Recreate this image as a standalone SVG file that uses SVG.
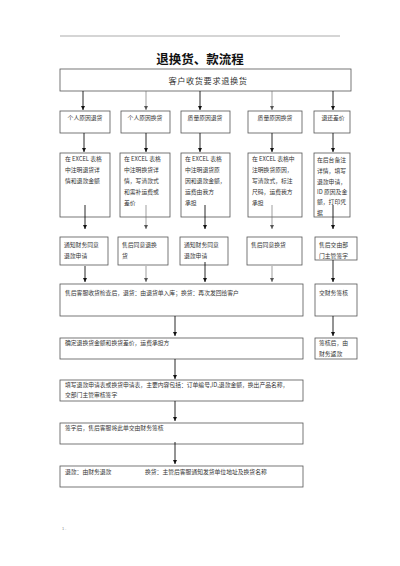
<svg xmlns="http://www.w3.org/2000/svg" width="400" height="566" viewBox="0 0 400 566">
<style>
  .bx{fill:#fff;stroke:#555;stroke-width:0.8}
  .t{font-family:"Noto Sans CJK SC","Liberation Sans",sans-serif;font-size:5.8px;fill:#333}
  .c{text-anchor:middle}
  .ad{stroke:#111;stroke-width:0.9;fill:none;marker-end:url(#ahd)}
  .ag{stroke:#777;stroke-width:0.7;fill:none;marker-end:url(#ahg)}
</style>
<defs>
  <marker id="ahd" viewBox="0 0 6 6" refX="6" refY="3" markerWidth="4" markerHeight="4" orient="auto" markerUnits="userSpaceOnUse"><path d="M0,0 L6,3 L0,6 z" fill="#111"/></marker>
  <marker id="ahg" viewBox="0 0 6 6" refX="6" refY="3" markerWidth="4" markerHeight="4" orient="auto" markerUnits="userSpaceOnUse"><path d="M0,0 L6,3 L0,6 z" fill="#555"/></marker>
</defs>
<rect width="400" height="566" fill="#fff"/>
<line x1="60" y1="36" x2="340" y2="36" stroke="#888" stroke-width="0.7"/>
<text x="200" y="64" class="c" font-family="Noto Sans CJK SC, sans-serif" font-size="12.5" font-weight="bold" fill="#111">退换货、款流程</text>

<g id="start"><rect class="bx" x="60" y="69" width="291" height="22"/><text class="t c" x="208" y="83.5" style="font-size:8.2px;letter-spacing:0.6px">客户收货要求退换货</text></g>

<g id="r1a"><rect class="bx" x="60" y="111" width="50" height="22"/><text class="t c" x="85" y="120">个人原因退货</text></g>
<g id="r1b"><rect class="bx" x="121" y="111" width="49" height="22"/><text class="t c" x="145" y="120">个人原因换货</text></g>
<g id="r1c"><rect class="bx" x="181" y="111" width="49" height="22"/><text class="t c" x="205" y="120">质量原因退货</text></g>
<g id="r1d"><rect class="bx" x="248" y="111" width="54" height="22"/><text class="t c" x="275" y="120">质量原因换货</text></g>
<g id="r1e"><rect class="bx" x="314" y="111" width="36" height="22"/><text class="t c" x="333" y="120">退还差价</text></g>

<g id="r2a"><rect class="bx" x="60" y="153" width="50" height="64"/><text class="t" x="65" y="161">在 EXCEL 表格</text><text class="t" x="65" y="172">中注明退货详</text><text class="t" x="65" y="183">情和退款金额</text></g>
<g id="r2b"><rect class="bx" x="120" y="153" width="50" height="64"/><text class="t" x="124" y="161">在 EXCEL 表格</text><text class="t" x="124" y="172">中注明换货详</text><text class="t" x="124" y="183">情，写清款式</text><text class="t" x="124" y="194">和需补运费或</text><text class="t" x="124" y="205">差价</text></g>
<g id="r2c"><rect class="bx" x="181" y="153" width="49" height="64"/><text class="t" x="185" y="161">在 EXCEL 表格</text><text class="t" x="185" y="172">中注明退货原</text><text class="t" x="185" y="183">因和退款金额，</text><text class="t" x="185" y="194">运费由我方</text><text class="t" x="185" y="205">承担</text></g>
<g id="r2d"><rect class="bx" x="248" y="153" width="54" height="64"/><text class="t" x="252" y="161">在 EXCEL 表格中</text><text class="t" x="252" y="172">注明换货原因，</text><text class="t" x="252" y="183">写清款式，标注</text><text class="t" x="252" y="194">尺码，运费我方</text><text class="t" x="252" y="205">承担</text></g>
<g id="r2e"><rect class="bx" x="314" y="153" width="36" height="64"/><text class="t" x="317" y="162">在后台备注</text><text class="t" x="317" y="173">详情，填写</text><text class="t" x="317" y="184">退款申请，</text><text class="t" x="317" y="194">ID 原因及金</text><text class="t" x="317" y="204">额，打印凭</text><text class="t" x="317" y="215">据</text></g>

<g id="r3a"><rect class="bx" x="60" y="237" width="48" height="28"/><text class="t" x="64" y="247">通知财务同意</text><text class="t" x="64" y="258">退款申请</text></g>
<g id="r3b"><rect class="bx" x="118" y="237" width="50" height="28"/><text class="t" x="122" y="247">售后同意退换</text><text class="t" x="122" y="258">货</text></g>
<g id="r3c"><rect class="bx" x="180" y="237" width="48" height="28"/><text class="t" x="184" y="247">通知财务同意</text><text class="t" x="184" y="258">退款申请</text></g>
<g id="r3d"><rect class="bx" x="247" y="237" width="55" height="28"/><text class="t" x="251" y="247">售后同意换货</text></g>
<g id="r3e"><rect class="bx" x="315" y="237" width="42" height="23"/><text class="t" x="319" y="247">售后交由部</text><text class="t" x="319" y="258">门主管签字</text></g>

<g id="r4"><rect class="bx" x="60" y="284" width="243" height="32"/><text class="t" x="65" y="295">售后客服收货检查后，退货：由退货单入库；换货：再次发回给客户</text></g>
<g id="r4r"><rect class="bx" x="315" y="284" width="42" height="32"/><text class="t" x="319" y="295">交财务签核</text></g>

<g id="r5"><rect class="bx" x="60" y="338" width="243" height="21"/><text class="t" x="65" y="345">确定退换货金额和换货差价，运费承担方</text></g>
<g id="r5r"><rect class="bx" x="315" y="338" width="42" height="21"/><text class="t" x="319" y="345">签核后，由</text><text class="t" x="319" y="356">财务返款</text></g>

<g id="r6"><rect class="bx" x="60" y="380" width="243" height="21"/><text class="t" x="65" y="387">填写退款申请表或换货申请表，主要内容包括：订单编号,ID,退款金额，换出产品名称，</text><text class="t" x="65" y="397">交部门主管审核签字</text></g>
<g id="r7"><rect class="bx" x="60" y="423" width="243" height="21"/><text class="t" x="65" y="430">签字后，售后客服将此单交由财务签核</text></g>
<g id="r8"><rect class="bx" x="60" y="466" width="243" height="21"/><text class="t" x="65" y="474">退款：由财务退款</text><text class="t" x="145" y="474">换货：主管后客服通知发货单位地址及换货名称</text></g>

<g id="connectors">
  <line class="ad" x1="83" y1="91" x2="83" y2="110"/>
  <line class="ag" x1="146" y1="91" x2="146" y2="110"/>
  <line class="ad" x1="200" y1="91" x2="200" y2="110"/>
  <line class="ag" x1="272" y1="91" x2="272" y2="110"/>
  <line class="ad" x1="333" y1="91" x2="333" y2="110"/>

  <line class="ad" x1="84" y1="133" x2="84" y2="152"/>
  <line class="ad" x1="146" y1="133" x2="146" y2="152"/>
  <line class="ad" x1="200" y1="133" x2="200" y2="152"/>
  <line class="ad" x1="272" y1="133" x2="272" y2="152"/>
  <line class="ad" x1="333" y1="133" x2="333" y2="152"/>

  <line class="ad" x1="85" y1="205" x2="85" y2="229"/>
  <line class="ag" x1="146" y1="205" x2="146" y2="229"/>
  <line class="ad" x1="205" y1="205" x2="205" y2="229"/>
  <line class="ag" x1="272" y1="205" x2="272" y2="229"/>
  <line class="ad" x1="333" y1="205" x2="333" y2="229"/>

  <line class="ad" x1="85" y1="266" x2="85" y2="282"/>
  <line class="ag" x1="146" y1="266" x2="146" y2="282"/>
  <line class="ad" x1="205" y1="262" x2="205" y2="282"/>
  <line class="ag" x1="272" y1="266" x2="272" y2="282"/>
  <line class="ad" x1="333" y1="260" x2="333" y2="282"/>

  <line class="ad" x1="175" y1="316" x2="175" y2="336"/>
  <line class="ad" x1="333" y1="316" x2="333" y2="336"/>
  <line class="ad" x1="175" y1="359" x2="175" y2="379"/>
  <line class="ad" x1="175" y1="401" x2="175" y2="421"/>
  <line class="ad" x1="175" y1="442" x2="175" y2="464"/>
</g>
<text x="62" y="530" font-family="Liberation Sans, sans-serif" font-size="4" fill="#888">1 .</text>
</svg>
